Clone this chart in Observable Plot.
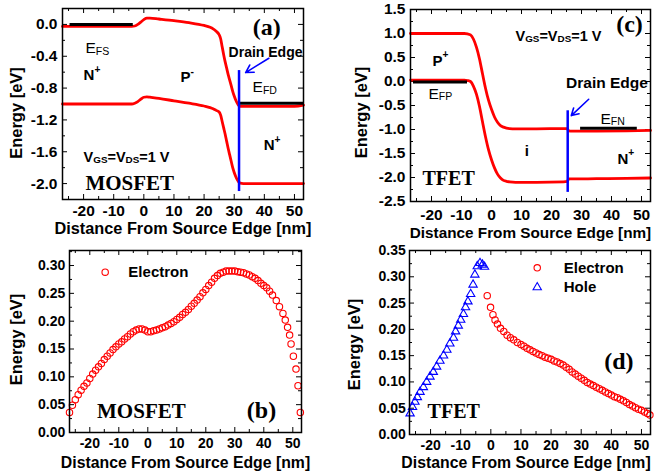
<!DOCTYPE html>
<html>
<head>
<meta charset="utf-8">
<script src="https://cdn.jsdelivr.net/npm/d3@7"></script>
<script src="https://cdn.jsdelivr.net/npm/@observablehq/plot@0.6"></script>
<style>
html, body { margin: 0; padding: 0; background: #fff; }
#fig { position: relative; width: 657px; height: 474px; overflow: hidden; background: #fff; }
#fig > div { position: absolute; }
</style>
</head>
<body>
<div id="fig"></div>
<script>
const SANS = "'Liberation Sans', Arial, Helvetica, sans-serif";
const SERIF = "'Liberation Serif', 'Times New Roman', Times, serif";

// ---------- shared axis ----------
const distanceDomain = [-27, 53];
const distanceTicks = [-20, -10, 0, 10, 20, 30, 40, 50];
const distanceMinor = [-25, -15, -5, 5, 15, 25, 35, 45];
const xTitle = "Distance From Source Edge [nm]";
const yTitle = "Energy [eV]";

// ---------- (a) MOSFET band diagram ----------
const aDist = [-27, -4, -3, -2, -1, 0, 1, 2, 5, 10, 15, 20, 22, 23, 24, 25, 25.5, 26, 26.5, 27, 27.5, 28, 28.5, 29, 29.5, 30, 30.5, 31, 31.5, 32, 33, 40, 50, 53];
const aCB = [-0.025, -0.025, -0.02, 0.0, 0.03, 0.06, 0.08, 0.08, 0.068, 0.047, 0.022, -0.013, -0.035, -0.055, -0.085, -0.13, -0.18, -0.28, -0.38, -0.47, -0.55, -0.63, -0.70, -0.77, -0.84, -0.90, -0.95, -0.99, -1.02, -1.03, -1.03, -1.03, -1.03, -1.015];
const aVB = [-1.0, -1.0, -0.99, -0.97, -0.94, -0.915, -0.91, -0.915, -0.93, -0.96, -0.99, -1.025, -1.045, -1.06, -1.08, -1.10, -1.14, -1.22, -1.30, -1.38, -1.47, -1.56, -1.64, -1.72, -1.80, -1.86, -1.91, -1.95, -1.98, -1.995, -2.0, -2.0, -2.0, -2.0];
const aFermiS = {from: -24.5, to: -3.5, level: 0.0};
const aFermiD = {from: 31.6, to: 53, level: -0.99};
const aDrain = {at: 31.6, top: -0.58, bottom: -2.1};
const aArrowFrom = [41.5, -0.425];
const aArrowTo = [33.8, -0.605];
const aYDomain = [-2.2, 0.2];
const aYTicks = [0, -0.4, -0.8, -1.2, -1.6, -2.0];
const aYMinor = [-0.2, -0.6, -1.0, -1.4, -1.8];

// ---------- (c) TFET band diagram ----------
const cDist = [-27, -9, -8, -7, -6, -5, -4, -3, -2, -1, 0, 1, 2, 3, 4, 5, 6, 8, 15, 24, 25.3, 25.7, 27, 35, 45, 53];
const cTop = [1.0, 1.0, 0.99, 0.97, 0.88, 0.71, 0.47, 0.16, -0.14, -0.39, -0.58, -0.74, -0.85, -0.92, -0.95, -0.97, -0.98, -0.985, -0.985, -0.98, -0.98, -1.03, -1.035, -1.035, -1.03, -1.02];
const cBot = [0.03, 0.03, 0.02, 0.0, -0.1, -0.27, -0.52, -0.84, -1.15, -1.42, -1.63, -1.8, -1.93, -2.01, -2.06, -2.08, -2.09, -2.1, -2.1, -2.09, -2.08, -2.03, -2.03, -2.025, -2.02, -2.01];
const cFermiP = {from: -26, to: -8, level: -0.01};
const cFermiN = {from: 29.7, to: 48.6, level: -0.975};
const cDrain = {at: 25.4, top: -0.61, bottom: -2.31};
const cArrowFrom = [32.4, -0.37];
const cArrowTo = [26.6, -0.71];
const cYDomain = [-2.5, 1.5];
const cYTicks = [1.5, 1.0, 0.5, 0.0, -0.5, -1.0, -1.5, -2.0, -2.5];
const cYMinor = [1.25, 0.75, 0.25, -0.25, -0.75, -1.25, -1.75, -2.25];

// ---------- (b) MOSFET electron energy ----------
const bDist = [-27, -26, -25, -24, -23, -22, -21, -20, -19, -18, -17, -16, -15, -14, -13, -12, -11, -10, -9, -8, -7, -6, -5, -4, -3, -2, -1, 0, 1, 2, 3, 4, 5, 6, 7, 8, 9, 10, 11, 12, 13, 14, 15, 16, 17, 18, 19, 20, 21, 22, 23, 24, 25, 26, 27, 28, 29, 30, 31, 32, 33, 34, 35, 36, 37, 38, 39, 40, 41, 42, 43, 44.3, 45.4, 46.6, 47.4, 48.2, 48.9, 49.4, 50.2, 51.1, 51.8, 52.6];
const bElectron = [0.036, 0.049, 0.059, 0.068, 0.076, 0.083, 0.089, 0.097, 0.105, 0.112, 0.118, 0.124, 0.131, 0.137, 0.143, 0.149, 0.154, 0.159, 0.163, 0.168, 0.172, 0.177, 0.181, 0.184, 0.186, 0.186, 0.184, 0.181, 0.181, 0.183, 0.184, 0.186, 0.188, 0.190, 0.193, 0.196, 0.199, 0.203, 0.207, 0.212, 0.216, 0.221, 0.227, 0.232, 0.238, 0.244, 0.251, 0.257, 0.264, 0.270, 0.277, 0.282, 0.286, 0.288, 0.290, 0.290, 0.290, 0.290, 0.289, 0.288, 0.287, 0.285, 0.283, 0.280, 0.277, 0.273, 0.268, 0.264, 0.260, 0.254, 0.247, 0.237, 0.226, 0.214, 0.202, 0.189, 0.175, 0.159, 0.137, 0.114, 0.084, 0.036];
const bYDomain = [0, 0.327];
const bYTicks = [0, 0.05, 0.10, 0.15, 0.20, 0.25, 0.30];
const bYMinor = [0.025, 0.075, 0.125, 0.175, 0.225, 0.275, 0.325];

// ---------- (d) TFET electron / hole energy ----------
const dHoleDist = [-26.8, -26.0, -25.2, -24.4, -23.5, -22.4, -21.3, -20.2, -19.1, -18.0, -16.9, -15.7, -14.6, -13.6, -12.4, -11.7, -10.8, -10.0, -9.1, -8.4, -7.6, -6.7, -5.9, -5.3, -4.5, -3.6, -2.8, -2.1];
const dHole = [0.040, 0.052, 0.062, 0.071, 0.081, 0.090, 0.100, 0.110, 0.119, 0.129, 0.140, 0.150, 0.161, 0.173, 0.184, 0.196, 0.207, 0.218, 0.229, 0.242, 0.253, 0.267, 0.285, 0.304, 0.320, 0.326, 0.323, 0.319];
const dElecDist = [-1.2, -0.1, 0.7, 1.4, 2.2, 3.2, 4.3, 5.4, 6.5, 7.6, 8.8, 10, 11, 12, 13, 14, 15, 16, 17, 18, 19, 20, 21, 22, 23, 24, 25, 26, 27, 28, 29, 30, 31, 32, 33, 34, 35, 36, 37, 38, 39, 40, 41, 42, 43, 44, 45, 46, 47, 48, 49, 50, 51, 52, 52.8];
const dElectron = [0.264, 0.242, 0.228, 0.218, 0.210, 0.202, 0.196, 0.189, 0.184, 0.180, 0.175, 0.171, 0.168, 0.164, 0.161, 0.158, 0.155, 0.152, 0.150, 0.147, 0.145, 0.143, 0.140, 0.138, 0.135, 0.132, 0.128, 0.124, 0.119, 0.115, 0.111, 0.107, 0.103, 0.099, 0.096, 0.093, 0.090, 0.087, 0.084, 0.081, 0.078, 0.075, 0.072, 0.070, 0.067, 0.064, 0.061, 0.057, 0.054, 0.051, 0.048, 0.046, 0.043, 0.040, 0.037];
const dYDomain = [0, 0.35];
const dYTicks = [0, 0.05, 0.10, 0.15, 0.20, 0.25, 0.30, 0.35];
const dYMinor = [0.025, 0.075, 0.125, 0.175, 0.225, 0.275, 0.325];

// ---------- helpers ----------
const RED = "#ff0000", BLUE = "#0000ff";
const ctx = document.createElement("canvas").getContext("2d");
function textWidth(s, size, weight, family) {
  ctx.font = `${weight} ${size}px ${family}`;
  return ctx.measureText(s).width;
}
// label made of pieces: [text, "base" | "sub" | "sup"]
function richLabel(x, y, parts, size, weight = "bold", family = SANS) {
  const marks = [];
  let dx = 0;
  for (const [t, kind] of parts) {
    const fs = kind === "base" ? size : size * 0.68;
    const dy = kind === "sub" ? size * 0.18 : kind === "sup" ? -size * 0.38 : 0;
    marks.push(Plot.text([{x, y, t}], {
      x: "x", y: "y", text: "t", dx, dy, fontSize: fs, fontWeight: weight,
      fontFamily: family, textAnchor: "start", lineAnchor: "middle", fill: "black"
    }));
    dx += textWidth(t, fs, weight, family);
  }
  return marks;
}
function plainLabel(x, y, t, size, {weight = "bold", family = SANS, anchor = "start"} = {}) {
  return Plot.text([{x, y, t}], {
    x: "x", y: "y", text: "t", fontSize: size, fontWeight: weight,
    fontFamily: family, textAnchor: anchor, lineAnchor: "middle", fill: "black"
  });
}
function table(xs, ys) { return xs.map((x, i) => ({x, e: ys[i]})); }
function hline(f) { return Plot.ruleY([f], {y: d => d.level, x1: d => d.from, x2: d => d.to, stroke: "black", strokeWidth: 3}); }
function vline(f) { return Plot.ruleX([f], {x: d => d.at, y1: d => d.top, y2: d => d.bottom, stroke: BLUE, strokeWidth: 2.5}); }
function arrow(from, to) {
  return Plot.arrow([{from, to}], {
    x1: d => d.from[0], y1: d => d.from[1], x2: d => d.to[0], y2: d => d.to[1],
    stroke: BLUE, strokeWidth: 1.6, headLength: 8
  });
}

function panel(cfg) {
  const {left, top, width, height, margin, yDomain, yTicks, yMinor, yFmt,
         tickFont, padX, padY, xTitleDx = 0, xTitleDy, xTitleSize, yTitleDx, yTitleDy, marks} = cfg;
  const [mt, mr, mb, ml] = margin;
  const iw = width - ml - mr, ih = height - mt - mb;
  const MAJ = 5, MIN = 3;
  const tk = {stroke: "black", strokeWidth: 1};
  const all = [
    Plot.ruleX(distanceTicks, {x: d => d, insetTop: ih - MAJ, ...tk}),
    Plot.ruleX(distanceTicks, {x: d => d, insetBottom: ih - MAJ, ...tk}),
    Plot.ruleX(distanceMinor, {x: d => d, insetTop: ih - MIN, ...tk}),
    Plot.ruleX(distanceMinor, {x: d => d, insetBottom: ih - MIN, ...tk}),
    Plot.ruleY(yTicks, {y: d => d, insetRight: iw - MAJ, ...tk}),
    Plot.ruleY(yTicks, {y: d => d, insetLeft: iw - MAJ, ...tk}),
    Plot.ruleY(yMinor, {y: d => d, insetRight: iw - MIN, ...tk}),
    Plot.ruleY(yMinor, {y: d => d, insetLeft: iw - MIN, ...tk}),
    ...marks,
    Plot.frame({stroke: "black", strokeWidth: 1.5}),
    Plot.axisX({ticks: distanceTicks, tickSize: 0, tickPadding: padX, tickFormat: d => String(d),
                label: null, fontSize: tickFont, fontWeight: "bold"}),
    Plot.axisY({ticks: yTicks, tickSize: 0, tickPadding: padY, tickFormat: yFmt,
                label: null, fontSize: tickFont, fontWeight: "bold"}),
    Plot.text([xTitle], {text: d => d, frameAnchor: "bottom", dx: xTitleDx, dy: xTitleDy, lineAnchor: "middle",
                         fontSize: xTitleSize, fontWeight: "bold", fill: "black"}),
    Plot.text([yTitle], {text: d => d, frameAnchor: "left", rotate: -90, dx: yTitleDx, dy: yTitleDy,
                         lineAnchor: "middle", textAnchor: "middle", fontSize: 16.5, fontWeight: "bold", fill: "black"})
  ];
  const svg = Plot.plot({
    width, height,
    marginTop: mt, marginRight: mr, marginBottom: mb, marginLeft: ml,
    x: {domain: distanceDomain, axis: null, label: null},
    y: {domain: yDomain, axis: null, label: null},
    style: {fontFamily: SANS, fontSize: tickFont + "px", fontWeight: "bold", color: "black",
            background: "transparent", overflow: "visible", maxWidth: "none"},
    marks: all
  });
  const holder = document.createElement("div");
  holder.style.left = left + "px";
  holder.style.top = top + "px";
  holder.style.width = width + "px";
  holder.style.height = height + "px";
  holder.appendChild(svg);
  document.getElementById("fig").appendChild(holder);
}

const lineStyle = {x: "x", y: "e", stroke: RED, strokeWidth: 2.8, curve: "monotone-x"};
const circleStyle = {x: "x", y: "e", r: 3.2, stroke: RED, strokeWidth: 1.1, fill: "none"};
const triangleStyle = {x: "x", y: "e", symbol: "triangle", r: 3.1, stroke: BLUE, strokeWidth: 1.1, fill: "none"};

// (a)
panel({
  left: 0, top: 0, width: 330, height: 240, margin: [8, 27, 41, 62],
  yDomain: aYDomain, yTicks: aYTicks, yMinor: aYMinor, yFmt: d => d.toFixed(1),
  tickFont: 15.5, padX: 5.5, padY: 5, xTitleDy: 29.5, xTitleSize: 16.3, yTitleDx: -46, yTitleDy: 9,
  marks: [
    Plot.line(table(aDist, aCB), lineStyle),
    Plot.line(table(aDist, aVB), lineStyle),
    hline(aFermiS), hline(aFermiD),
    vline(aDrain), arrow(aArrowFrom, aArrowTo),
    ...richLabel(-19.4, -0.303, [["E", "base"], ["FS", "sub"]], 15.5, "normal"),
    ...richLabel(-20.0, -0.642, [["N", "base"], ["+", "sup"]], 15),
    ...richLabel(12.2, -0.667, [["P", "base"], ["-", "sup"]], 15),
    ...richLabel(36.1, -0.792, [["E", "base"], ["FD", "sub"]], 15.5, "normal"),
    plainLabel(40.4, -0.353, "Drain Edge", 14, {anchor: "middle"}),
    ...richLabel(39.8, -1.521, [["N", "base"], ["+", "sup"]], 15),
    ...richLabel(-20.0, -1.672, [["V", "base"], ["GS", "sub"], ["=V", "base"], ["DS", "sub"], ["=1 V", "base"]], 14.5),
    plainLabel(-19.4, -1.992, "MOSFET", 21, {family: SERIF}),
    plainLabel(40.8, -0.039, "(a)", 24, {family: SERIF, anchor: "middle"})
  ]
});

// (c)
panel({
  left: 330, top: 0, width: 327, height: 240, margin: [9, 7, 39, 80],
  yDomain: cYDomain, yTicks: cYTicks, yMinor: cYMinor, yFmt: d => d.toFixed(1),
  tickFont: 15.5, padX: 7, padY: 5, xTitleDy: 31.5, xTitleSize: 15.3, yTitleDx: -49, yTitleDy: 7,
  marks: [
    Plot.line(table(cDist, cTop), lineStyle),
    Plot.line(table(cDist, cBot), lineStyle),
    hline(cFermiP), hline(cFermiN),
    vline(cDrain), arrow(cArrowFrom, cArrowTo),
    ...richLabel(8.0, 0.946, [["V", "base"], ["GS", "sub"], ["=V", "base"], ["DS", "sub"], ["=1 V", "base"]], 14.5),
    plainLabel(46.0, 1.19, "(c)", 24, {family: SERIF, anchor: "middle"}),
    ...richLabel(-19.7, 0.431, [["P", "base"], ["+", "sup"]], 15),
    ...richLabel(-21.0, -0.256, [["E", "base"], ["FP", "sub"]], 15.5, "normal"),
    plainLabel(38.5, -0.038, "Drain Edge", 15.5, {anchor: "middle"}),
    plainLabel(11.8, -1.444, "i", 15, {anchor: "middle"}),
    ...richLabel(36.3, -0.78, [["E", "base"], ["FN", "sub"]], 15.5, "normal"),
    ...richLabel(42.0, -1.61, [["N", "base"], ["+", "sup"]], 15),
    plainLabel(-23.0, -2.017, "TFET", 20, {family: SERIF})
  ]
});

// (b)
panel({
  left: 0, top: 237, width: 330, height: 237, margin: [13, 29, 42, 69],
  yDomain: bYDomain, yTicks: bYTicks, yMinor: bYMinor, yFmt: d => d.toFixed(2),
  tickFont: 14, padX: 6, padY: 4.3, xTitleDy: 30, xTitleSize: 15.8, yTitleDx: -53, yTitleDy: -2,
  marks: [
    Plot.dot(table(bDist, bElectron), circleStyle),
    Plot.dot([{x: -14.7, e: 0.288}], circleStyle),
    plainLabel(-6.7, 0.288, "Electron", 15),
    plainLabel(-17.5, 0.038, "MOSFET", 21, {family: SERIF}),
    plainLabel(39.2, 0.0395, "(b)", 24, {family: SERIF, anchor: "middle"})
  ]
});

// (d)
panel({
  left: 330, top: 237, width: 327, height: 237, margin: [13, 7, 40, 79],
  yDomain: dYDomain, yTicks: dYTicks, yMinor: dYMinor, yFmt: d => d.toFixed(2),
  tickFont: 14, padX: 5.5, padY: 3.7, xTitleDx: -4, xTitleDy: 28, xTitleSize: 15.8, yTitleDx: -55, yTitleDy: 2,
  marks: [
    Plot.dot(table(dHoleDist, dHole), triangleStyle),
    Plot.dot(table(dElecDist, dElectron), circleStyle),
    Plot.dot([{x: 15.4, e: 0.317}], circleStyle),
    Plot.dot([{x: 15.4, e: 0.280}], triangleStyle),
    plainLabel(24.2, 0.317, "Electron", 15),
    plainLabel(24.2, 0.280, "Hole", 15),
    plainLabel(42.5, 0.139, "(d)", 24, {family: SERIF, anchor: "middle"}),
    plainLabel(-21.0, 0.044, "TFET", 20, {family: SERIF})
  ]
});
</script>
</body>
</html>
